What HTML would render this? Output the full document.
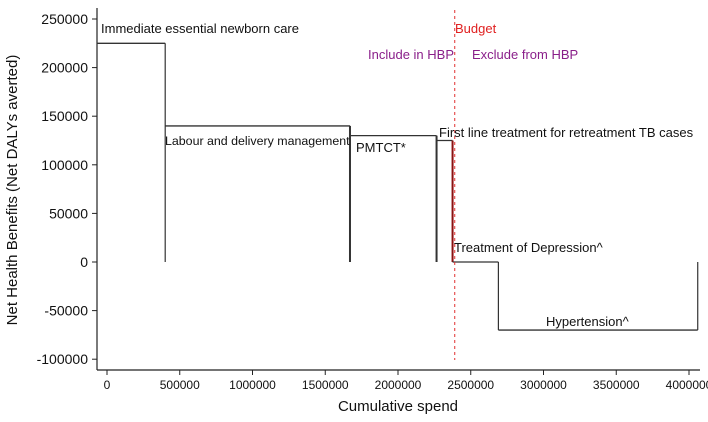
<!DOCTYPE html>
<html><head><meta charset="utf-8"><style>
body{margin:0;background:#fff;}
text{font-family:"Liberation Sans",sans-serif;fill:#111;}
</style></head><body>
<svg width="708" height="417">
<g id="plot"></g>
</svg>
<script>
const categories=["Immediate essential newborn care","Labour and delivery management","PMTCT*","First line treatment for retreatment TB cases","Treatment of Depression^","Hypertension^"];
const spendStart=[-70000,400000,1670000,2265000,2375000,2690000];
const spendEnd=[400000,1670000,2265000,2375000,2690000,4060000];
const netBenefit=[225000,140000,130000,125000,0,-70000];
const xTicks=[0,500000,1000000,1500000,2000000,2500000,3000000,3500000,4000000];
const yTicks=[250000,200000,150000,100000,50000,0,-50000,-100000];
const budget=2390000;
const NS="http://www.w3.org/2000/svg";
const g=document.getElementById('plot');
const X=v=>107+v*145.5/1e6;
const Y=v=>262-v*0.000972;
function mk(t,a,txt){const e=document.createElementNS(NS,t);for(const k in a)e.setAttribute(k,a[k]);if(txt!=null)e.textContent=txt;g.appendChild(e);return e;}
let e;
e=mk('line',{x1:97,y1:8,x2:97,y2:370,stroke:'#222','stroke-width':1.2});


e=mk('line',{x1:97,y1:370,x2:700,y2:370,stroke:'#222','stroke-width':1.2});


yTicks.forEach(v=>{
 mk('line',{x1:92,y1:Y(v),x2:97,y2:Y(v),stroke:'#222'});
 e=mk('text',{x:88,y:Y(v)+5,'text-anchor':'end','font-size':14},String(v));
 
 
});
xTicks.forEach(v=>{
 mk('line',{x1:X(v),y1:370,x2:X(v),y2:375,stroke:'#222'});
 e=mk('text',{x:X(v),y:389,'text-anchor':'middle','font-size':12},String(v));
 
 
});
e=mk('text',{x:398,y:411,'text-anchor':'middle','font-size':15},'Cumulative spend');


e=mk('text',{x:0,y:0,'text-anchor':'middle','font-size':15,transform:'translate(17,190) rotate(-90)'},'Net Health Benefits (Net DALYs averted)');


categories.forEach((c,i)=>{
 const x0=X(spendStart[i]),x1=X(spendEnd[i]),y=Y(netBenefit[i]),y0=Y(0);
 e=mk('line',{x1:x0,y1:y,x2:x1,y2:y,stroke:'#333','stroke-width':1.3});
 
 
 const col=i===3?'#8b1010':'#333';
 e=mk('line',{x1:x1,y1:y,x2:x1,y2:y0,stroke:col,'stroke-width':(i===1||i===2||i===3)?2:1.2});
 
 
 if(netBenefit[i]<0){mk('line',{x1:x0,y1:y0,x2:x0,y2:y,stroke:'#333','stroke-width':1.2});}
});
e=mk('line',{x1:X(budget),y1:10,x2:X(budget),y2:360,stroke:'#e03030','stroke-width':1,'stroke-dasharray':'3,3'});


const labels=[[101,33,categories[0],13],[165,145,categories[1],12.4],[356,152,categories[2],13],[439,137,categories[3],13],[454,252,categories[4],13],[546,326,categories[5],13]];
labels.forEach((l,i)=>{e=mk('text',{x:l[0],y:l[1],'font-size':l[3]},l[2]);
 
 });
e=mk('text',{x:455,y:33,'font-size':13,style:'fill:#e02020'},'Budget');


e=mk('text',{x:368,y:59,'font-size':13,style:'fill:#8a1f8a'},'Include in HBP');


e=mk('text',{x:472,y:59,'font-size':13,style:'fill:#8a1f8a'},'Exclude from HBP');


</script>
</body></html>
